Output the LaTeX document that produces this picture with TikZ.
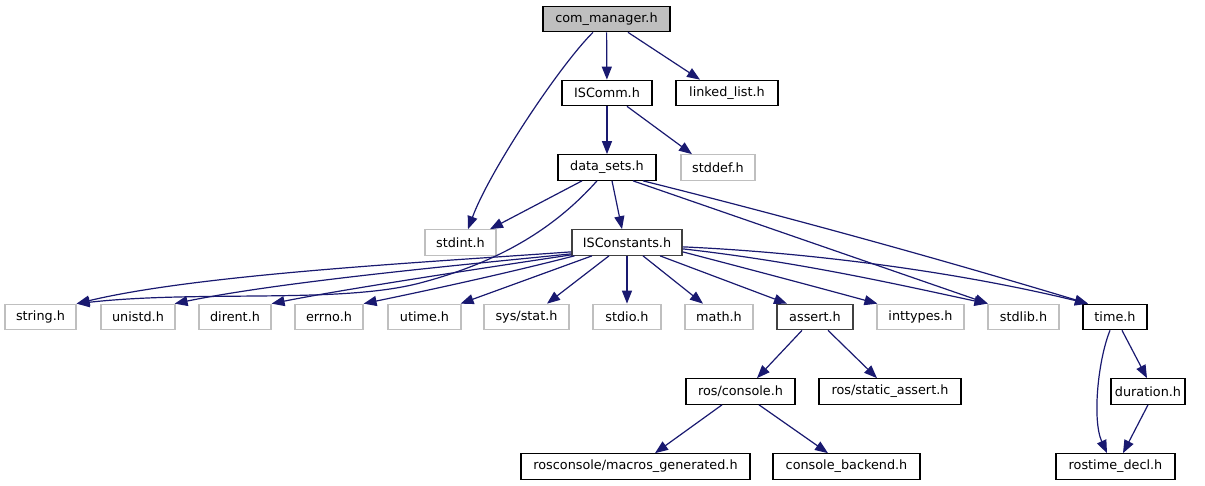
\documentclass[tikz,border=0pt]{standalone}
\usepackage{fontspec}
\setmainfont{DejaVu Sans}
\usetikzlibrary{arrows.meta}
\definecolor{edgeblue}{HTML}{191970}
\definecolor{greyb}{HTML}{BFBFBF}
\definecolor{darkb}{HTML}{404040}
\tikzset{
  box/.style={draw=black, line width=1.2pt, fill=white, inner sep=0pt, minimum height=25.5pt, font=\fontsize{12.8}{14}\selectfont},
  gbox/.style={box, draw=greyb},
  dbox/.style={box, draw=darkb},
  edge/.style={draw=edgeblue, line width=1.2pt, -{Triangle[length=13pt,width=10pt]}}
}
\begin{document}
\begin{tikzpicture}[x=1pt,y=-1pt]
\useasboundingbox (0,0) rectangle (1205,485);
% row 0
\node[box, fill=greyb, minimum width=127pt] (cm) at (606.5,19) {com\_manager.h};
% row 1
\node[box, minimum width=90pt] (iscomm) at (607,93) {ISComm.h};
\node[box, minimum width=102pt] (ll) at (727,93) {linked\_list.h};
% row 2
\node[box, minimum width=98pt] (ds) at (607,167.5) {data\_sets.h};
\node[gbox, minimum width=74pt] (stddef) at (718,167.5) {stddef.h};
% row 3
\node[gbox, minimum width=71pt] (stdint) at (460.5,242.5) {stdint.h};
\node[dbox, minimum width=110pt] (isc) at (627,242.5) {ISConstants.h};
% row 4
\node[gbox, minimum width=71pt] (string) at (40.5,317) {string.h};
\node[gbox, minimum width=74pt] (unistd) at (138,317) {unistd.h};
\node[gbox, minimum width=72pt] (dirent) at (235,317) {dirent.h};
\node[gbox, minimum width=68pt] (errno) at (329,317) {errno.h};
\node[gbox, minimum width=73pt] (utime) at (424.5,317) {utime.h};
\node[gbox, minimum width=85pt] (sysstat) at (526.5,317) {sys/stat.h};
\node[gbox, minimum width=68pt] (stdio) at (627,317) {stdio.h};
\node[gbox, minimum width=68pt] (math) at (719,317) {math.h};
\node[dbox, minimum width=76pt] (assert) at (815,317) {assert.h};
\node[gbox, minimum width=87pt] (inttypes) at (920.5,317) {inttypes.h};
\node[gbox, minimum width=71pt] (stdlib) at (1023.5,317) {stdlib.h};
\node[box, minimum width=64pt] (time) at (1115,317) {time.h};
% row 5
\node[box, minimum width=109pt] (roscon) at (740.5,391.5) {ros/console.h};
\node[box, minimum width=142pt] (rsa) at (890,391.5) {ros/static\_assert.h};
\node[box, minimum width=74pt] (dur) at (1148,391.5) {duration.h};
% row 6
\node[box, minimum width=229pt] (mg) at (635.5,466.5) {rosconsole/macros\_generated.h};
\node[box, minimum width=147pt] (cb) at (846.5,466.5) {console\_backend.h};
\node[box, minimum width=119pt] (rtd) at (1115.5,466.5) {rostime\_decl.h};
% edges
\draw[edge] ([xshift=-13.5pt]cm.south) .. controls (560,65) and (490,170) .. ([xshift=7.5pt]stdint.north);
\draw[edge] (cm) -- (iscomm);
\draw[edge] ([xshift=21.5pt]cm.south) -- ([xshift=-27pt]ll.north);
\draw[edge] (iscomm) -- (ds);
\draw[edge] ([xshift=20pt]iscomm.south) -- ([xshift=-26pt]stddef.north);
\draw[edge] ([xshift=-25pt]ds.south) -- ([xshift=29.5pt]stdint.north);
\draw[edge] ([xshift=-10pt]ds.south) .. controls (555,228) and (500,262) .. (420,283) .. controls (340,304) and (200,290) .. (string.north east);
\draw[edge] ([xshift=5pt]ds.south) -- ([xshift=-5pt]isc.north);
\draw[edge] ([xshift=26pt]ds.south) -- ([xshift=-35.5pt]stdlib.north);
\draw[edge] ([xshift=36pt]ds.south) .. controls (800,220) and (950,262) .. ([xshift=-27pt]time.north);
\draw[edge] ([yshift=4pt]isc.south west) .. controls (430,262) and (200,274) .. (string.north east);
\draw[edge] ([yshift=2pt]isc.south west) .. controls (450,266) and (280,282) .. ([xshift=-1pt]unistd.north east);
\draw[edge] ([yshift=1pt]isc.south west) .. controls (470,270) and (340,290) .. (dirent.north east);
\draw[edge] ([xshift=3pt]isc.south west) .. controls (500,275) and (420,292) .. (errno.north east);
\draw[edge] ([xshift=-35pt]isc.south) -- ([xshift=-1pt]utime.north east);
\draw[edge] ([xshift=-18pt]isc.south) -- ([xshift=20.5pt]sysstat.north);
\draw[edge] (isc) -- (stdio);
\draw[edge] ([xshift=16pt]isc.south) -- ([xshift=-16pt]math.north);
\draw[edge] ([xshift=33pt]isc.south) -- ([xshift=-28pt]assert.north);
\draw[edge] ([yshift=4pt]isc.south east) .. controls (760,272) and (820,288) .. ([xshift=1pt]inttypes.north west);
\draw[edge] ([yshift=7pt]isc.south east) .. controls (800,262) and (900,285) .. (stdlib.north west);
\draw[edge] ([yshift=9pt]isc.south east) .. controls (800,252) and (950,270) .. ([xshift=-27pt]time.north);
\draw[edge] ([xshift=-13pt]assert.south) -- ([xshift=16.5pt]roscon.north);
\draw[edge] ([xshift=13pt]assert.south) -- ([xshift=-13pt]rsa.north);
\draw[edge] ([xshift=-18.5pt]roscon.south) -- ([xshift=19.5pt]mg.north);
\draw[edge] ([xshift=18.5pt]roscon.south) -- ([xshift=-18.5pt]cb.north);
\draw[edge] ([xshift=7pt]time.south) -- ([xshift=-1pt]dur.north);
\draw[edge] ([xshift=-5pt]time.south) .. controls (1098,360) and (1092,420) .. ([xshift=-8.5pt]rtd.north);
\draw[edge] (dur.south) -- ([xshift=7.5pt]rtd.north);
\end{tikzpicture}
\end{document}
